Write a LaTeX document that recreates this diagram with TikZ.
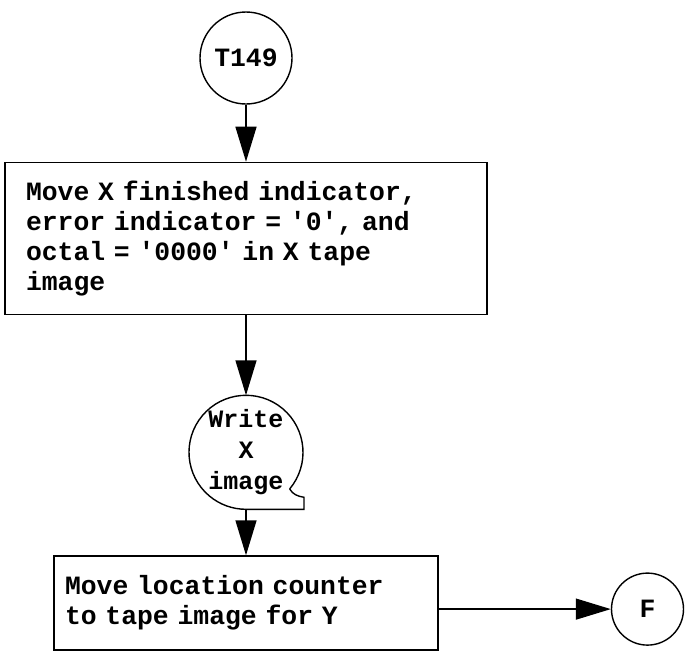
\documentclass[tikz,border=0pt]{standalone}
\usepackage{fontspec}
\setmonofont{Liberation Mono}
\usetikzlibrary{arrows.meta, positioning}
\tikzset{
  term/.style   = {circle, draw, line width=1.4pt, minimum size=#1,
                   inner sep=0pt, font=\ttfamily\bfseries\fontsize{26.4}{30}\selectfont},
  procbox/.style= {rectangle, draw, line width=1.6pt, align=left,
                   font=\ttfamily\bfseries\fontsize{26.4}{29.8}\selectfont},
  tape/.style   = {circle, minimum size=114pt, inner sep=0pt, outer sep=0pt,
                   align=center, font=\ttfamily\bfseries\fontsize{25}{31}\selectfont},
  arr/.style    = {-{Triangle[length=35pt, width=21pt]}, line width=1.4pt},
  line/.style   = {line width=1.4pt},
}
\begin{document}
\begin{tikzpicture}[node distance=57pt]

  \fill[white] (0pt,0pt) rectangle (686pt,-648pt);

  \node[term=92pt] (t149) at (246pt,-58pt) {T149};
  \node[procbox, below=57pt of t149, minimum width=482pt, minimum height=152pt,
        inner xsep=21pt, text width=440pt] (movex)
       {Move X finished indicator,\\error indicator = '0', and\\octal = '0000' in X tape\\image};
  \draw[arr] (t149) -- (movex);

  % write tape symbol
  \node[tape, below=80pt of movex] (wrx) {Write\\X\\image};
  \draw[line] (wrx.-40) arc[start angle=-40, end angle=270, radius=57pt]
    -- ([xshift=1pt]wrx.south -| wrx.east) -- ++(0pt,12pt)
    to[out=170, in=-60] (wrx.-40);
  \draw[arr] (movex) -- (wrx);

  \node[procbox, below=46pt of wrx, minimum width=384pt, minimum height=94pt,
        inner xsep=11pt, text width=362pt] (movelc)
       {Move location counter\\to tape image for Y};
  \draw[arr] (wrx) -- (movelc);

  % exit connector
  \node[term=72pt, right=172pt of movelc, yshift=-6pt] (fout) {F};
  \draw[arr] (movelc.east |- fout) -- (fout);

\end{tikzpicture}
\end{document}
